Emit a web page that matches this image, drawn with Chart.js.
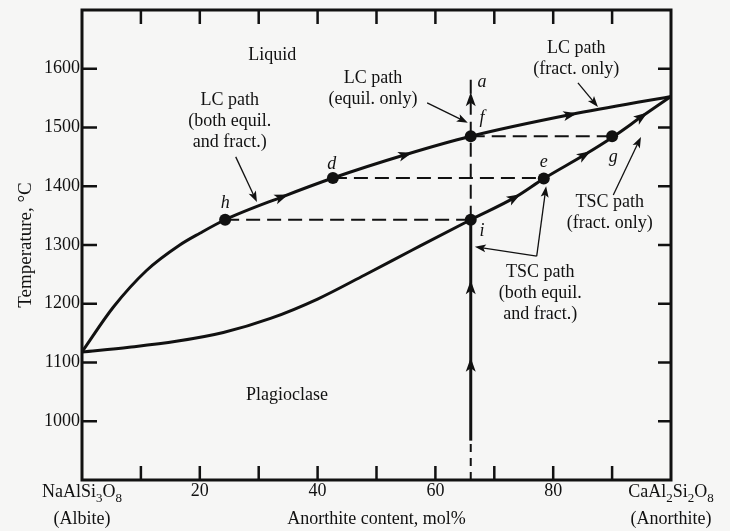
<!DOCTYPE html>
<html>
<head>
<meta charset="utf-8">
<script src="https://cdn.jsdelivr.net/npm/chart.js@4.4.1/dist/chart.umd.min.js"></script>
<style>
html,body{margin:0;padding:0;background:#f6f6f5;}
#wrap{width:730px;height:531px;position:relative;}
</style>
</head>
<body>
<div id="wrap"><canvas id="c"></canvas></div>
<script>
// ---- data ----
const xTickLabels = [20, 40, 60, 80];
const yTickLabels = [1000, 1100, 1200, 1300, 1400, 1500, 1600];
const xMinorTicks = [10, 20, 30, 40, 50, 60, 70, 80, 90];
const yMinorTicks = [1000, 1100, 1200, 1300, 1400, 1500, 1600];

const liquidusX = [0, 5.3, 11, 16.6, 20, 24.3, 34, 42.6, 55, 66, 83, 100];
const liquidusT = [1118, 1194, 1257, 1300, 1320, 1343, 1382, 1414, 1454, 1485, 1522, 1553];

const solidusX = [0, 8, 16, 24, 32, 40, 48, 56, 66, 73.5, 78.4, 85.4, 90, 95.1, 100];
const solidusT = [1118, 1126, 1136, 1151, 1175, 1208, 1249, 1291, 1343, 1381, 1413, 1454, 1483, 1519, 1553];

const dotNames = ['h', 'd', 'f', 'i', 'e', 'g'];
const dotX = [24.3, 42.6, 66, 66, 78.4, 90];
const dotT = [1343, 1414, 1485, 1343, 1413, 1485];

const pathX = 66;               // bulk composition
const pathSolidT = [967, 1343]; // solid heating path
const pathDashLowT = [900, 967];
const pathDashHighT = [1343, 1582];

const tieLineT = [1343, 1414, 1485];
const tieLineFromX = [24.3, 42.6, 66];
const tieLineToX = [66, 78.4, 90];

const liqArrowX = [34, 55, 83];
const solArrowX = [73.5, 85.4, 95.1];
const pathArrowT = [1108, 1240, 1560];

// ---- annotation layout (data units) ----
const FONT = 'Liberation Serif';
const regionLabels = [
  {lines: ['Liquid'], x: 32.3, t: 1623},
  {lines: ['Plagioclase'], x: 34.8, t: 1045},
  {lines: ['LC path', '(both equil.', 'and fract.)'], x: 25.1, t: 1547},
  {lines: ['LC path', '(equil. only)'], x: 49.4, t: 1584},
  {lines: ['LC path', '(fract. only)'], x: 83.9, t: 1635},
  {lines: ['TSC path', '(fract. only)'], x: 89.6, t: 1373},
  {lines: ['TSC path', '(both equil.', 'and fract.)'], x: 77.8, t: 1254}
];
const pointLabels = [
  {s: 'h', x: 24.3, t: 1371}, {s: 'd', x: 42.4, t: 1438}, {s: 'f', x: 67.9, t: 1516},
  {s: 'a', x: 67.9, t: 1577}, {s: 'i', x: 67.9, t: 1324}, {s: 'e', x: 78.4, t: 1440},
  {s: 'g', x: 90.2, t: 1450}
];
const pointerArrows = [
  {from: [26.1, 1450], to: [29.7, 1373]},
  {from: [58.6, 1542], to: [65.5, 1508]},
  {from: [84.2, 1576], to: [87.6, 1535]},
  {from: [90.2, 1385], to: [94.9, 1484]},
  {from: [77.2, 1281], to: [78.8, 1400]},
  {from: [77.2, 1281], to: [66.7, 1297]}
];

function pts(xs, ts) { return xs.map((x, i) => ({x: x, y: ts[i]})); }
function interp(xs, ts, x) {
  for (let i = 0; i < xs.length - 1; i++) {
    if (x >= xs[i] && x <= xs[i + 1]) {
      const f = (x - xs[i]) / (xs[i + 1] - xs[i]);
      return ts[i] + f * (ts[i + 1] - ts[i]);
    }
  }
  return ts[ts.length - 1];
}
function head(ctx, x, y, ang, len, half, notch) {
  ctx.save();
  ctx.translate(x, y);
  ctx.rotate(ang);
  ctx.beginPath();
  ctx.moveTo(0, 0);
  ctx.lineTo(-len, -half);
  ctx.lineTo(-len + notch, 0);
  ctx.lineTo(-len, half);
  ctx.closePath();
  ctx.fill();
  ctx.restore();
}

const INK = '#111';
const datasets = [
  {data: pts(dotX, dotT), showLine: false, pointRadius: 6, pointHoverRadius: 6,
   pointBackgroundColor: INK, pointBorderColor: INK, borderWidth: 0},
  {data: pts(liquidusX, liquidusT), showLine: true, borderColor: INK, borderWidth: 3,
   pointRadius: 0, cubicInterpolationMode: 'monotone'},
  {data: pts(solidusX, solidusT), showLine: true, borderColor: INK, borderWidth: 3,
   pointRadius: 0, cubicInterpolationMode: 'monotone'},
  {data: pathSolidT.map(t => ({x: pathX, y: t})), showLine: true, borderColor: INK, borderWidth: 3, pointRadius: 0},
  {data: pathDashLowT.map(t => ({x: pathX, y: t})), showLine: true, borderColor: INK, borderWidth: 2,
   borderDash: [8, 6], pointRadius: 0},
  {data: pathDashHighT.map(t => ({x: pathX, y: t})), showLine: true, borderColor: INK, borderWidth: 2,
   borderDash: [14, 7], pointRadius: 0}
];
tieLineT.forEach((t, i) => {
  datasets.push({data: [{x: tieLineFromX[i], y: t}, {x: tieLineToX[i], y: t}], showLine: true,
    borderColor: INK, borderWidth: 2, borderDash: [14, 7], pointRadius: 0});
});

const decor = {
  id: 'decor',
  afterDraw(chart) {
    const ctx = chart.ctx, xs = chart.scales.x, ys = chart.scales.y, a = chart.chartArea;
    const X = v => xs.getPixelForValue(v), Y = v => ys.getPixelForValue(v);
    ctx.save();
    ctx.fillStyle = INK;
    ctx.strokeStyle = INK;
    // arrowheads along curves
    const curveHead = (xsArr, tsArr, xv) => {
      const p0x = X(xv - 0.5), p0y = Y(interp(xsArr, tsArr, xv - 0.5));
      const p1x = X(xv + 0.5), p1y = Y(interp(xsArr, tsArr, xv + 0.5));
      const ang = Math.atan2(p1y - p0y, p1x - p0x);
      const cx = X(xv), cy = Y(interp(xsArr, tsArr, xv));
      head(ctx, cx + Math.cos(ang) * 6.5, cy + Math.sin(ang) * 6.5, ang, 14, 5, 3.5);
    };
    liqArrowX.forEach(v => curveHead(liquidusX, liquidusT, v));
    solArrowX.forEach(v => curveHead(solidusX, solidusT, v));
    pathArrowT.forEach(t => head(ctx, X(pathX), Y(t), -Math.PI / 2, 14, 5, 3.5));
    // pointer arrows
    ctx.lineWidth = 1.3;
    pointerArrows.forEach(p => {
      const fx = X(p.from[0]), fy = Y(p.from[1]), tx = X(p.to[0]), ty = Y(p.to[1]);
      const ang = Math.atan2(ty - fy, tx - fx);
      ctx.beginPath();
      ctx.moveTo(fx, fy);
      ctx.lineTo(tx - Math.cos(ang) * 6, ty - Math.sin(ang) * 6);
      ctx.stroke();
      head(ctx, tx, ty, ang, 11, 4, 2.5);
    });
    // frame
    ctx.lineWidth = 3;
    ctx.strokeRect(a.left, a.top, a.right - a.left, a.bottom - a.top);
    // inward ticks
    ctx.lineWidth = 2.5;
    ctx.beginPath();
    xMinorTicks.forEach(v => {
      const px = X(v);
      ctx.moveTo(px, a.bottom); ctx.lineTo(px, a.bottom - 14);
      ctx.moveTo(px, a.top); ctx.lineTo(px, a.top + 14);
    });
    yMinorTicks.forEach(v => {
      const py = Y(v);
      ctx.moveTo(a.left, py); ctx.lineTo(a.left + 15, py);
      ctx.moveTo(a.right, py); ctx.lineTo(a.right - 13, py);
    });
    ctx.stroke();
    // region / path labels
    ctx.textAlign = 'center';
    ctx.textBaseline = 'middle';
    ctx.font = '18px "' + FONT + '"';
    regionLabels.forEach(l => {
      const cx = X(l.x), cy = Y(l.t);
      l.lines.forEach((s, k) => ctx.fillText(s, cx, cy + k * 21));
    });
    ctx.font = 'italic 18px "' + FONT + '"';
    pointLabels.forEach(l => ctx.fillText(l.s, X(l.x), Y(l.t)));
    // end-member labels with subscripts
    const formula = (parts, cx, base) => {
      let w = 0;
      parts.forEach(p => { ctx.font = (p[1] ? '13px "' : '18px "') + FONT + '"'; w += ctx.measureText(p[0]).width; });
      let x = cx - w / 2;
      ctx.textAlign = 'left';
      ctx.textBaseline = 'alphabetic';
      parts.forEach(p => {
        ctx.font = (p[1] ? '13px "' : '18px "') + FONT + '"';
        ctx.fillText(p[0], x, base + (p[1] ? 5 : 0));
        x += ctx.measureText(p[0]).width;
      });
    };
    formula([['NaAlSi', 0], ['3', 1], ['O', 0], ['8', 1]], X(0), 497);
    formula([['CaAl', 0], ['2', 1], ['Si', 0], ['2', 1], ['O', 0], ['8', 1]], X(100), 497);
    ctx.font = '18px "' + FONT + '"';
    ctx.textAlign = 'center';
    ctx.fillText('(Albite)', X(0), 524);
    ctx.fillText('(Anorthite)', X(100), 524);
    ctx.restore();
  }
};

new Chart(document.getElementById('c'), {
  type: 'scatter',
  data: {datasets: datasets},
  options: {
    responsive: true,
    maintainAspectRatio: false,
    animation: false,
    events: [],
    layout: {padding: {left: 0, right: 59, top: 10, bottom: 0}},
    plugins: {legend: {display: false}, tooltip: {enabled: false}},
    scales: {
      x: {
        type: 'linear', min: 0, max: 100,
        afterBuildTicks: s => { s.ticks = xTickLabels.map(v => ({value: v})); },
        afterFit: s => { s.height = 51; s.paddingLeft = 0; s.paddingRight = 0; },
        grid: {display: false, drawTicks: false},
        border: {display: false},
        ticks: {font: {family: FONT, size: 18}, color: INK, padding: 0, maxRotation: 0, autoSkip: false,
                callback: v => String(v)},
        title: {display: true, text: 'Anorthite content, mol%', font: {family: FONT, size: 18}, color: INK,
                padding: {top: 0, bottom: 1}}
      },
      y: {
        type: 'linear', min: 900, max: 1700,
        afterBuildTicks: s => { s.ticks = yTickLabels.map(v => ({value: v})); },
        afterFit: s => { s.width = 82; s.paddingTop = 0; s.paddingBottom = 0; },
        grid: {display: false, drawTicks: false},
        border: {display: false},
        ticks: {font: {family: FONT, size: 18}, color: INK, padding: 2, autoSkip: false,
                callback: v => String(v)},
        title: {display: true, text: 'Temperature, °C', font: {family: FONT, size: 19}, color: INK,
                padding: {top: 15, bottom: 0}}
      }
    }
  },
  plugins: [decor]
});
</script>
</body>
</html>
